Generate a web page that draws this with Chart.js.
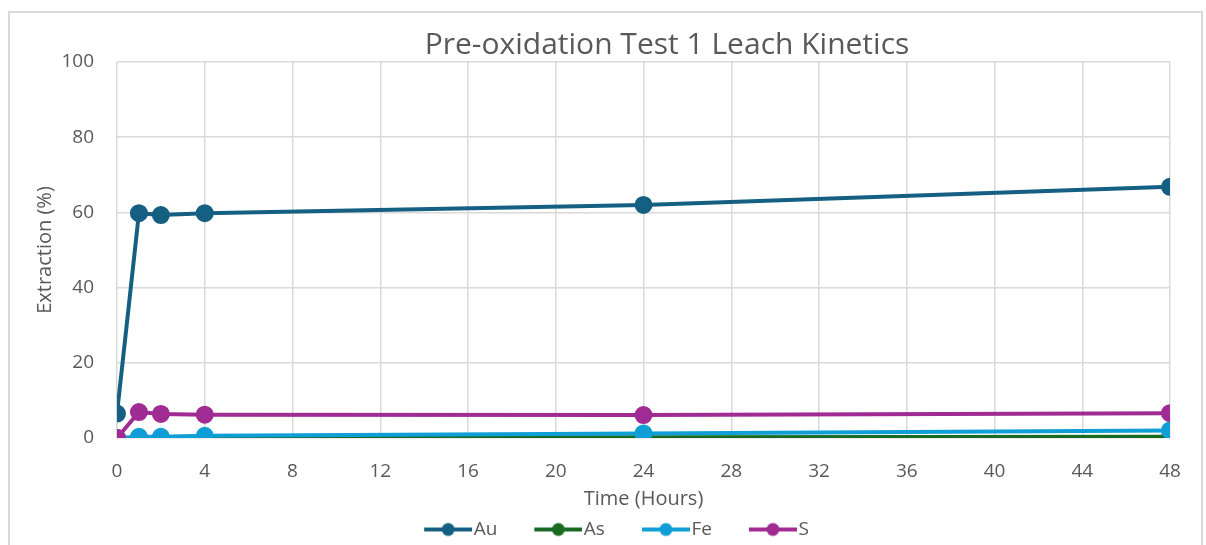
<!DOCTYPE html>
<html>
<head>
<meta charset="utf-8">
<script src="https://cdn.jsdelivr.net/npm/chart.js@4"></script>
<style>
  html, body { margin: 0; padding: 0; background: #fff; }
  #frame { position: absolute; left: 8px; top: 11px; width: 1195px; height: 540px;
           border: 2px solid #d9d9d9; border-bottom: none; box-sizing: border-box; }
  #kineticsChart { position: absolute; left: 0; top: 0; }
</style>
</head>
<body>
<div id="frame"></div>
<canvas id="kineticsChart" width="1206" height="545"></canvas>
<script>
const hours = [0, 1, 2, 4, 24, 48];
const au = [6.5, 59.8, 59.3, 59.8, 62.0, 66.8];
const as = [0, 0, 0, 0, 0.2, 0.3];
const fe = [0, 0.3, 0.3, 0.6, 1.2, 2.0];
const s = [0, 6.9, 6.4, 6.2, 6.1, 6.6];

const seriesNames = ['Au', 'As', 'Fe', 'S'];
const seriesValues = [au, as, fe, s];
const seriesColors = ['#156082', '#196B24', '#0F9ED5', '#A02B93'];
const drawOrder = [4, 3, 2, 1];

const chartTitle = 'Pre-oxidation Test 1 Leach Kinetics';
const font = "'Open Sans', 'Liberation Sans', sans-serif";
const grey = '#595959';

// legend marker: line with a dot, drawn at the right end of a wider box
const markerBox = 70;
function legendMarker(color) {
  const c = document.createElement('canvas');
  c.width = 86; c.height = 16;
  const g = c.getContext('2d');
  g.strokeStyle = color; g.lineWidth = 4;
  g.beginPath(); g.moveTo(38, 8); g.lineTo(86, 8); g.stroke();
  g.fillStyle = color;
  g.beginPath(); g.arc(62, 8, 6.5, 0, Math.PI * 2); g.fill();
  return c;
}

// title sits right of centre, as in the original
const titlePlugin = {
  id: 'movedTitle',
  afterDraw(chart) {
    const c = chart.ctx;
    c.save();
    c.font = "30px " + font;
    c.fillStyle = grey;
    c.textAlign = 'center';
    c.textBaseline = 'middle';
    c.fillText(chartTitle, 667, 45);
    c.restore();
  }
};

const datasets = seriesNames.map((name, i) => ({
  label: name,
  data: hours.map((h, j) => ({ x: h, y: seriesValues[i][j] })),
  borderColor: seriesColors[i],
  backgroundColor: seriesColors[i],
  borderWidth: 4,
  pointRadius: 7,
  pointHoverRadius: 7,
  order: drawOrder[i]
}));

const ctx = document.getElementById('kineticsChart').getContext('2d');
const kineticsChart = new Chart(ctx, {
  type: 'line',
  data: { datasets },
  plugins: [titlePlugin],
  options: {
    responsive: false,
    maintainAspectRatio: false,
    animation: false,
    layout: { padding: { left: 33, right: 36, top: 62, bottom: -4 } },
    plugins: {
      title: { display: false },
      legend: {
        position: 'bottom',
        labels: {
          usePointStyle: true,
          pointStyleWidth: markerBox,
          color: grey,
          font: { family: font, size: 19 },
          padding: 7,
          generateLabels: () => seriesNames.map((name, i) => ({
            text: name,
            pointStyle: legendMarker(seriesColors[i]),
            fillStyle: seriesColors[i],
            strokeStyle: seriesColors[i],
            lineWidth: 0,
            fontColor: grey,
            datasetIndex: i
          }))
        }
      },
      tooltip: { enabled: false }
    },
    scales: {
      x: {
        type: 'linear',
        min: 0,
        max: 48,
        ticks: { stepSize: 4, color: grey, padding: 22, maxRotation: 0, font: { family: font, size: 19 } },
        grid: { color: '#d9d9d9', lineWidth: 1.5, drawTicks: false },
        border: { display: false },
        title: { display: true, text: 'Time (Hours)', color: grey,
                 font: { family: font, size: 20 }, padding: { top: 0, bottom: 2 } },
        afterFit: scale => { scale.height = 75; }
      },
      y: {
        min: 0,
        max: 100,
        ticks: { stepSize: 20, color: grey, padding: 23, font: { family: font, size: 19 } },
        grid: { color: '#d9d9d9', lineWidth: 1.5, drawTicks: false },
        border: { display: false },
        title: { display: true, text: 'Extraction (%)', color: grey,
                 font: { family: font, size: 20 }, padding: { top: 0, bottom: 0 } },
        afterFit: scale => { scale.width = 84; }
      }
    }
  }
});
</script>
</body>
</html>
